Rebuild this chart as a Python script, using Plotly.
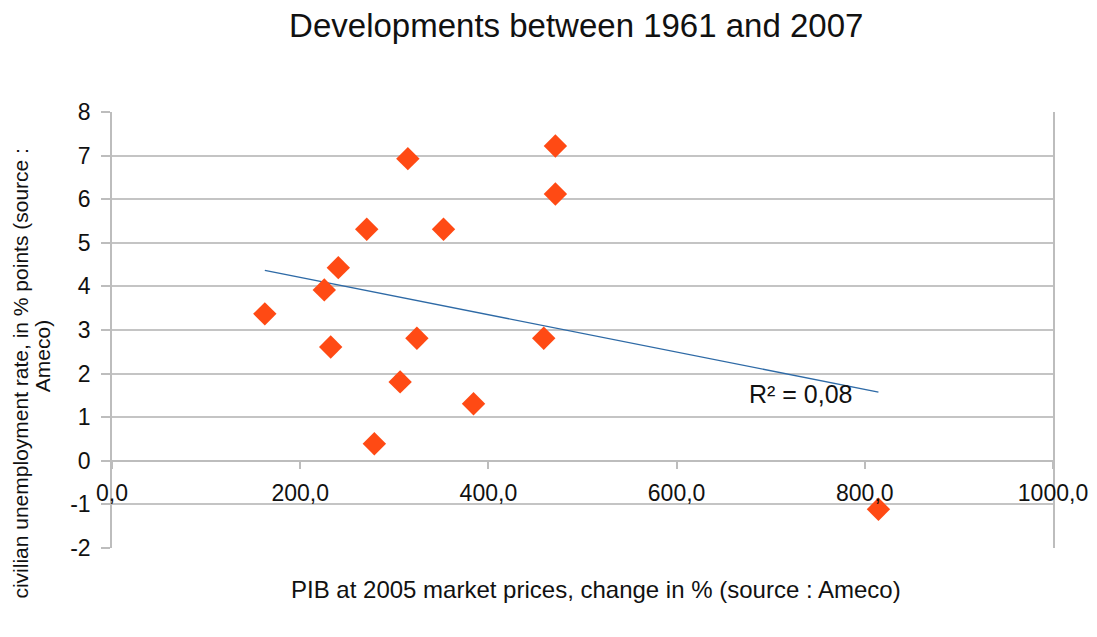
import numpy as np
import plotly.graph_objects as go

# Data
gdp_change = [162.4, 225.6, 240.5, 270.7, 314.4, 352.3, 471.2, 471.2,
              232.4, 324.0, 458.8, 306.2, 384.2, 278.8, 814.5]
unemp_change = [3.37, 3.92, 4.43, 5.31, 6.93, 5.31, 7.22, 6.12,
                2.61, 2.81, 2.81, 1.81, 1.31, 0.39, -1.11]
x_ticks = [0, 200, 400, 600, 800, 1000]
x_tick_labels = ["0,0", "200,0", "400,0", "600,0", "800,0", "1000,0"]
y_ticks = [-2, -1, 0, 1, 2, 3, 4, 5, 6, 7, 8]
y_tick_labels = ["-2", "-1", "0", "1", "2", "3", "4", "5", "6", "7", "8"]

title = "Developments between 1961 and 2007"
x_title = "PIB at 2005 market prices, change in % (source : Ameco)"
y_title_lines = ["civilian unemployment rate, in % points (source :", "Ameco)"]

xa = np.array(gdp_change)
ya = np.array(unemp_change)
slope, intercept = np.polyfit(xa, ya, 1)
pred = slope * xa + intercept
r2 = 1 - np.sum((ya - pred) ** 2) / np.sum((ya - ya.mean()) ** 2)
tx = np.array([xa.min(), xa.max()])
ty = slope * tx + intercept

font = "Liberation Sans, Arial, sans-serif"
ink = "#111111"

fig = go.Figure()
fig.add_trace(go.Scatter(x=tx, y=ty, mode="lines",
                         line=dict(color="#2e6aa6", width=1.3),
                         showlegend=False, hoverinfo="skip"))
fig.add_trace(go.Scatter(x=gdp_change, y=unemp_change, mode="markers",
                         marker=dict(symbol="diamond", size=18, color="#ff4a14",
                                     line=dict(width=0)),
                         showlegend=False))

fig.add_annotation(x=732, y=1.54, xref="x", yref="y",
                   text="R² = " + f"{r2:.2f}".replace(".", ","),
                   showarrow=False, font=dict(family=font, size=25, color=ink))

fig.add_annotation(x=0.514, y=-0.096, xref="paper", yref="paper",
                   text=x_title, showarrow=False, xanchor="center", yanchor="middle",
                   font=dict(family=font, size=24, color=ink))

# rotated y-axis title, two lines
fig.add_annotation(x=0, y=0.40, xref="paper", yref="paper", xshift=-91,
                   text=y_title_lines[0], textangle=-90, showarrow=False,
                   xanchor="center", yanchor="middle",
                   font=dict(family=font, size=21, color=ink))
fig.add_annotation(x=0, y=0.44, xref="paper", yref="paper", xshift=-70,
                   text=y_title_lines[1], textangle=-90, showarrow=False,
                   xanchor="center", yanchor="middle",
                   font=dict(family=font, size=21, color=ink))

fig.update_layout(
    width=1097, height=637,
    paper_bgcolor="white", plot_bgcolor="white",
    margin=dict(l=104, r=52, t=104, b=97),
    title=dict(text=title, x=0.518, xanchor="center", y=0.972, yanchor="middle",
               font=dict(family=font, size=33, color=ink)),
    xaxis=dict(range=[0, 1000], tickvals=x_ticks, ticktext=x_tick_labels,
               showgrid=False, zeroline=False,
               showline=True, linecolor="#bdbdbd", linewidth=1.5,
               anchor="free", position=0.2,
               ticks="outside", ticklen=7, tickcolor="#bdbdbd", tickwidth=1.5,
               tickfont=dict(family=font, size=23, color=ink),
               ticklabelstandoff=5),
    yaxis=dict(range=[-2, 8], tickvals=y_ticks, ticktext=y_tick_labels, domain=[0, 1],
               showgrid=True, gridcolor="#c4c4c4", gridwidth=1.5,
               zeroline=False,
               showline=True, linecolor="#bdbdbd", linewidth=1.5, mirror=True,
               ticks="outside", ticklen=9, tickcolor="#bdbdbd", tickwidth=1.5,
               tickfont=dict(family=font, size=23, color=ink),
               ticklabelstandoff=6),
)

fig.write_html("out.html")
